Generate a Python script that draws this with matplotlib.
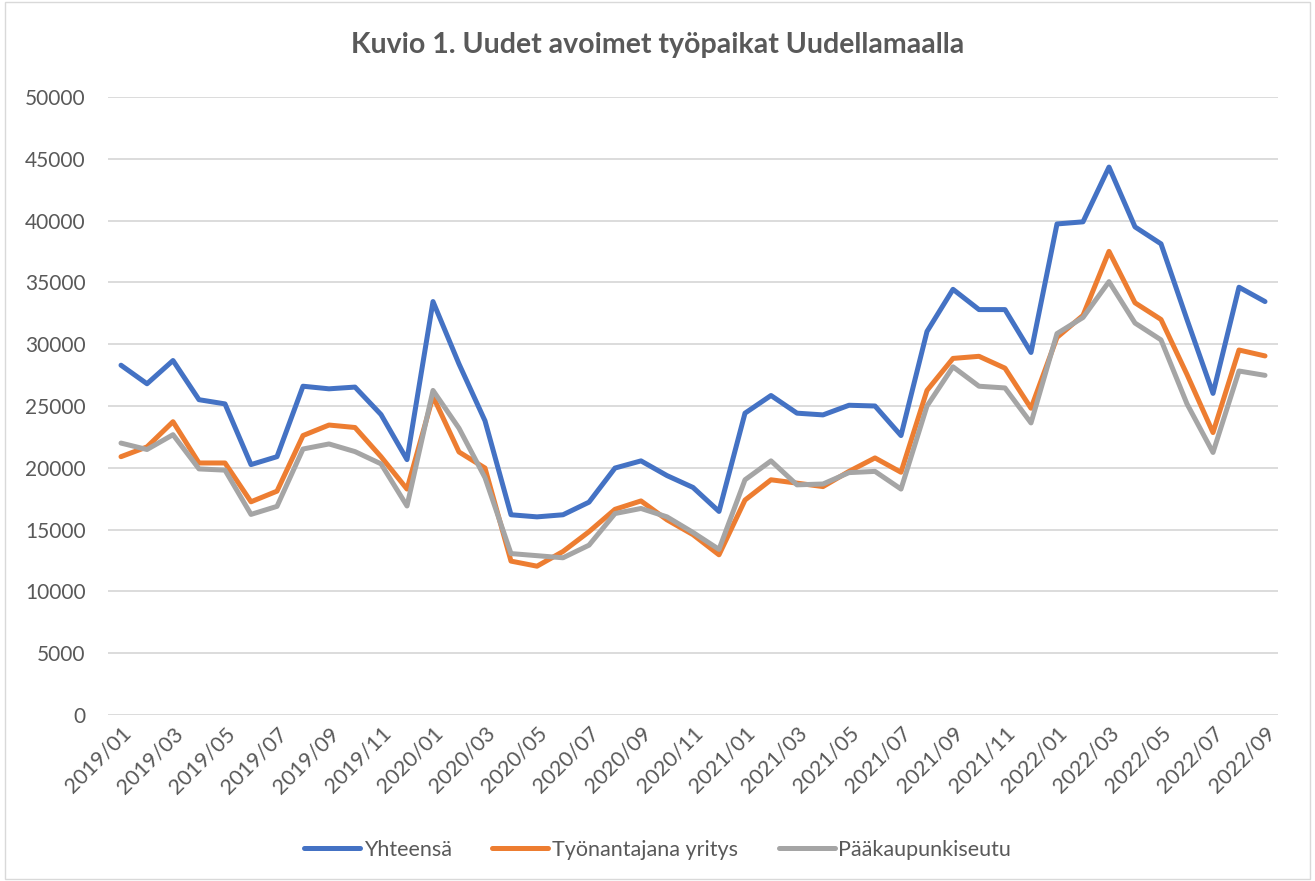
import matplotlib
matplotlib.use("Agg")
import matplotlib.pyplot as plt
from matplotlib.patches import Rectangle

# kuukaudet 2019/01 - 2022/09
months = [f"{y}/{m:02d}" for y in range(2019, 2023) for m in range(1, 13)][:45]

yhteensa = [28300, 26800, 28680, 25510, 25170, 20260, 20900, 26600, 26390, 26530,
            24310, 20660, 33450, 28400, 23800, 16200, 16030, 16200, 17220, 19980,
            20560, 19370, 18410, 16470, 24420, 25850, 24420, 24280, 25060, 25000,
            22610, 31030, 34440, 32800, 32800, 29330, 39730, 39900, 44330, 39490,
            38120, 31990, 26020, 34610, 33450]
tyonantajana_yritys = [20900, 21690, 23730, 20390, 20390, 17250, 18110, 22610, 23460, 23260,
                       20900, 18280, 25780, 21280, 19980, 12450, 12040, 13230, 14830, 16640,
                       17320, 15790, 14590, 12960, 17390, 19030, 18760, 18480, 19710, 20800,
                       19640, 26260, 28850, 29020, 28060, 24820, 30550, 32330, 37510, 33350,
                       32000, 27550, 22850, 29530, 29050]
paakaupunkiseutu = [22000, 21480, 22680, 19910, 19810, 16230, 16880, 21520, 21930, 21310,
                    20320, 16910, 26260, 23200, 19200, 13060, 12890, 12720, 13740, 16300,
                    16710, 16030, 14770, 13400, 19030, 20560, 18620, 18690, 19610, 19710,
                    18280, 25000, 28170, 26600, 26460, 23630, 30860, 32160, 35060, 31710,
                    30350, 25170, 21240, 27830, 27480]

txt = "#595959"
plt.rcParams['font.family'] = ['Lato', 'DejaVu Sans']

fig = plt.figure(figsize=(13.15, 8.81), dpi=100)
ax = fig.add_axes([108/1315, 1-715/881, 1170/1315, 618/881])

x = list(range(len(months)))
ax.plot(x, yhteensa, color="#4472C4", lw=3.6, label="Yhteensä", solid_joinstyle="round", solid_capstyle="round")
ax.plot(x, tyonantajana_yritys, color="#ED7D31", lw=3.6, label="Työnantajana yritys", solid_joinstyle="round", solid_capstyle="round")
ax.plot(x, paakaupunkiseutu, color="#A5A5A5", lw=3.6, label="Pääkaupunkiseutu", solid_joinstyle="round", solid_capstyle="round")

ax.set_xlim(-0.5, len(months) - 0.5)
ax.set_ylim(0, 50000)
ax.set_yticks(range(0, 50001, 5000))
ax.set_yticklabels([str(v) for v in range(0, 50001, 5000)], fontsize=15)
ax.set_xticks(x[::2])
ax.set_xticklabels(months[::2], rotation=45, ha="right", rotation_mode="anchor", fontsize=15.5)
ax.tick_params(axis="both", length=0, colors=txt)
ax.tick_params(axis="y", pad=16)
ax.tick_params(axis="x", pad=6)
ax.grid(axis="y", color="#D9D9D9", lw=1.3)
ax.set_axisbelow(True)
for s in ax.spines.values():
    s.set_visible(False)

fig.text(0.5, 1-45/881, "Kuvio 1. Uudet avoimet työpaikat Uudellamaalla", ha="center", va="center",
         fontsize=20.5, fontweight="bold", color=txt)

fig.legend(loc="center", bbox_to_anchor=(0.5, 1-850/881), ncol=3, frameon=False,
           fontsize=15.5, labelcolor=txt, handlelength=2.6, columnspacing=1.9, handletextpad=0.15)

fig.patches.append(Rectangle((0.004, 0.002), 0.992, 0.996, transform=fig.transFigure,
                             fill=False, edgecolor="#D9D9D9", lw=1))

fig.savefig("out.png", dpi=100)
